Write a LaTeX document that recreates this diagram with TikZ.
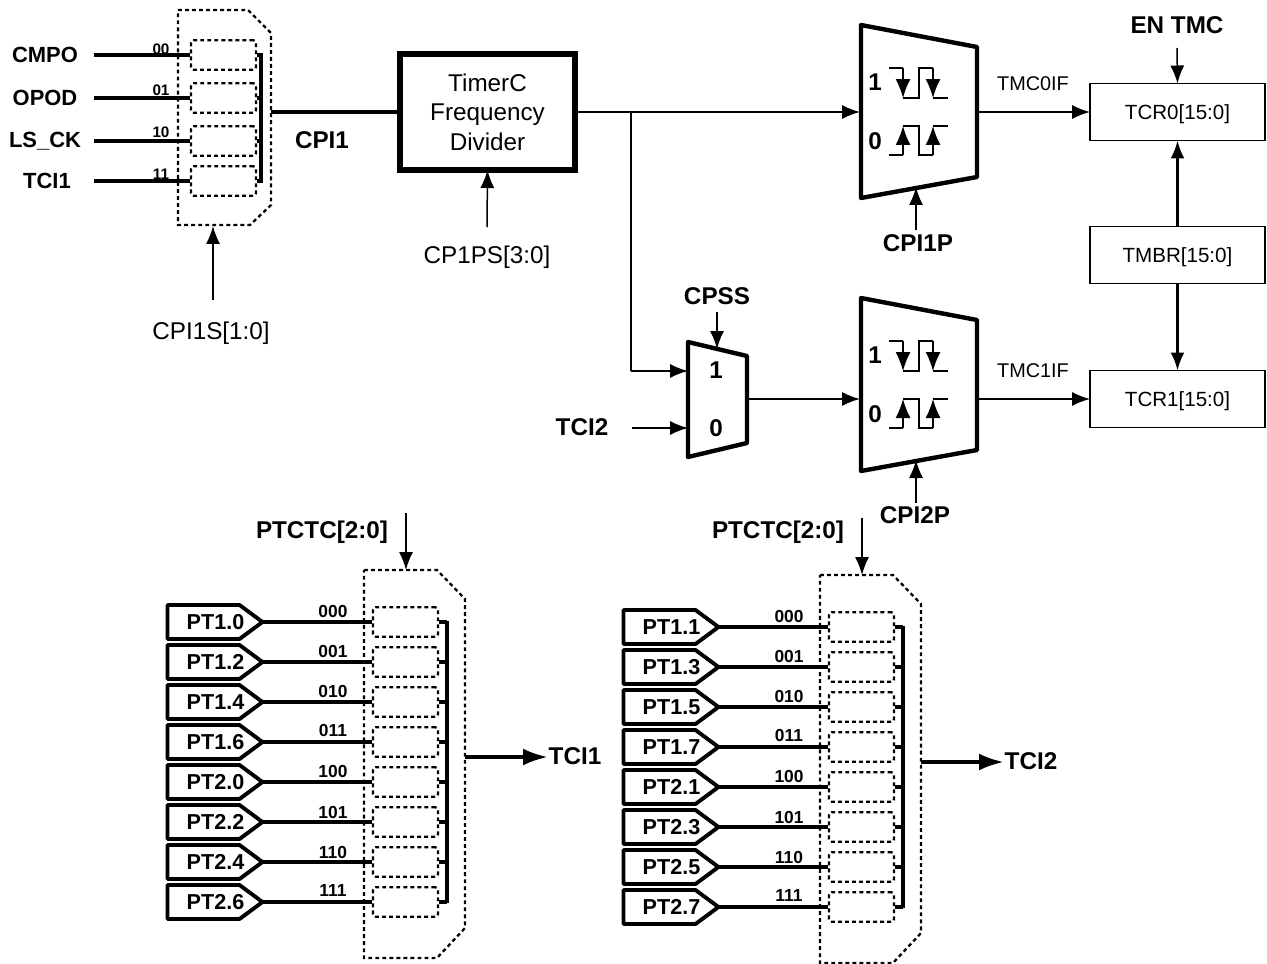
\documentclass[tikz,border=0pt]{standalone}
\usepackage{fontspec}
\setmainfont{Liberation Sans}
\usetikzlibrary{arrows.meta, shapes.symbols}

\tikzset{
  sig/.style={line width=0.85pt, -{Latex[length=0.36cm, width=0.28cm]}},
  sigbold/.style={line width=1.5pt, -{Latex[length=0.36cm, width=0.28cm]}},
  busout/.style={line width=2.2pt, -{Latex[length=0.5cm, width=0.34cm]}},
  wire/.style={line width=1.9pt},
  edgeline/.style={line width=0.85pt},
  edgetip/.style={line width=0.85pt, -{Latex[length=0.38cm, width=0.3cm]}},
  dashbox/.style={line width=1.3pt, dash pattern=on 2.2pt off 1.8pt},
  slot/.style={draw, dashbox, rounded corners=1.5pt, minimum width=1.3cm, minimum height=0.59cm, inner sep=0pt},
  muxline/.style={line width=2.5pt, line join=round},
  regbox/.style={draw, line width=1.1pt, minimum width=3.5cm, minimum height=1.14cm, inner sep=0pt, outer sep=0pt,
    text depth=0pt, font=\fontsize{11.7}{14}\selectfont},
  pintag/.style={draw, line width=2.2pt, line join=round, signal, signal to=east, signal pointer angle=73,
    minimum width=1.9cm, minimum height=0.68cm, inner sep=0pt, outer sep=0pt, font=\fontsize{12.3}{14}\selectfont\bfseries},
  pinlab/.style={font=\fontsize{12.5}{15}\selectfont\bfseries},
  lab/.style={font=\fontsize{13.8}{16}\selectfont\bfseries},
  plain/.style={font=\fontsize{13.8}{16.7}\selectfont, align=center},
  tiny/.style={font=\fontsize{8.7}{10}\selectfont\bfseries},
  small/.style={font=\fontsize{9.9}{12}\selectfont\bfseries},
  flag/.style={font=\fontsize{11.3}{14}\selectfont},
}

\begin{document}
\begin{tikzpicture}[x=0.02cm, y=-0.02cm]
  \useasboundingbox (0,0) rectangle (1267,963);

  % input selector
  \draw[dashbox] (178,10) -- (248,10) -- (271,33) -- (271,205) -- (250,225) -- (178,225) -- cycle;
  \foreach \r/\y/\ly/\px/\pin/\code in {a/55/49/45/CMPO/00, b/98/90/45/OPOD/01, c/141/132/45/LS\_CK/10, d/181/174/47/TCI1/11} {
    \node[slot] (sel\r) at (223.5,\y) {};
    \node[pinlab] (pin\r) at (\px,\y) {\pin};
    \coordinate (in\r) at (94,\y);
    \coordinate (bus\r) at (261,\y);
    \draw[wire] (in\r) -- (sel\r.west);
    \draw[wire] (sel\r.east) -- (bus\r);
    \node[tiny] (code\r) at (161,\ly) {\code};
  }
  \draw[line width=2.4pt] (261,53) -- (261,183);

  % divider
  \node[draw, line width=3pt, minimum width=3.5cm, minimum height=2.32cm, inner sep=0pt, outer sep=0pt, plain] (div) at (487.5,112)
    {TimerC\\Frequency\\Divider};
  \coordinate (selout) at (271,112);
  \draw[wire] (selout) -- (div.west);
  \node[lab] (cpione) at (322,140) {CPI1};
  \node[plain] (cpis) at (211,333) {CPI1S[1:0]};
  \coordinate (cpisin) at (213,300);
  \coordinate (selbot) at (213,226);
  \draw[sig] (cpisin) -- (selbot);
  \node[plain] (cpps) at (487,257) {CP1PS[3:0]};
  \coordinate (cppsin) at (487,227);
  \draw[sig] (cppsin) -- (div.south);

  % edge select blocks
  \foreach \m/\dy/\sel/\sx/\sy in {0/0/CPI1P/918/243, 1/273/CPI2P/915/242} {
    \begin{scope}[shift={(0,\dy)}]
      \draw[muxline] (861,25) -- (977,47) -- (977,177) -- (861,198) -- cycle;
      \node[lab] (one\m) at (875,82) {1};
      \node[lab] (zero\m) at (875,141) {0};
      \draw[edgeline] (889,68) -- (903,68) (903,98) -- (919,98) -- (919,68) -- (933,68) (933,98) -- (948,98);
      \draw[edgetip] (903,68) -- (903,98);
      \draw[edgetip] (933,68) -- (933,98);
      \draw[edgeline] (889,155) -- (903,155) (903,126) -- (919,126) -- (919,155) -- (933,155) (933,126) -- (948,126);
      \draw[edgetip] (903,155) -- (903,126);
      \draw[edgetip] (933,155) -- (933,126);
      \coordinate (edgein\m) at (916,230);
      \coordinate (edgebot\m) at (916,187);
      \draw[sig] (edgein\m) -- (edgebot\m);
      \node[lab] (cpip\m) at (\sx,\sy) {\sel};
    \end{scope}
  }

  % registers
  \node[regbox] (tcrz) at (1177.5,112) {TCR0[15:0]};
  \node[regbox] (tmbr) at (1177.5,255) {TMBR[15:0]};
  \node[regbox] (tcro) at (1177.5,399) {TCR1[15:0]};
  \draw[sigbold] (tmbr) -- (tcrz);
  \draw[sigbold] (tmbr) -- (tcro);
  \node[lab] (en) at (1177,25) {EN TMC};
  \coordinate (enin) at (1177,48);
  \draw[sig] (enin) -- (tcrz.north);

  % second clock path
  \coordinate (divout) at (div.east);
  \coordinate (muxa) at (860,112);
  \coordinate (muxaout) at (977,112);
  \coordinate (tap) at (631,112);
  \coordinate (tapb) at (631,371);
  \coordinate (smalla) at (688,371);
  \draw[sig] (divout) -- (muxa);
  \draw[line width=0.85pt] (tap) -- (tapb);
  \draw[sig] (tapb) -- (smalla);
  \draw[sig] (muxaout) -- (tcrz.west);
  \node[flag] (flagz) at (1033,84) {TMC0IF};

  \draw[muxline] (688,342) -- (747,356) -- (747,443) -- (688,457) -- cycle;
  \node[lab] (sone) at (716,370) {1};
  \node[lab] (szero) at (716,428) {0};
  \node[lab] (cpss) at (717,296) {CPSS};
  \coordinate (cpssin) at (717,312);
  \coordinate (smalltop) at (717,349);
  \draw[sig] (cpssin) -- (smalltop);
  \node[lab] (tcitwo) at (582,427) {TCI2};
  \coordinate (tcia) at (632,428);
  \coordinate (smallb) at (688,428);
  \draw[sig] (tcia) -- (smallb);
  \coordinate (smallout) at (747,399);
  \coordinate (muxb) at (860,399);
  \coordinate (muxbout) at (977,399);
  \draw[sig] (smallout) -- (muxb);
  \draw[sig] (muxbout) -- (tcro.west);
  \node[flag] (flago) at (1033,371) {TMC1IF};

  % port selectors
  \foreach \s/\dx/\dy/\res/\py in {0/0/0/TCI1/532, 1/456/5/TCI2/527} {
    \begin{scope}[shift={(\dx,\dy)}]
      \draw[dashbox] (364,570) -- (437,570) -- (465,599) -- (465,928) -- (437,958) -- (364,958) -- cycle;
      \foreach \i/\port/\bit/\code/\ly/\y in {0/1/0/000/612/622, 1/1/2/001/652/662, 2/1/4/010/692/702, 3/1/6/011/731/742,
          4/2/0/100/772/782, 5/2/2/101/813/822, 6/2/4/110/853/862, 7/2/6/111/891/902} {
        \pgfmathtruncatemacro{\pbit}{\bit+\s}
        \node[pintag] (pt\s\i) at (203.5,\y) {\makebox[0pt]{\hspace{0.48cm}PT\port.\pbit}};
        \node[slot] (slot\s\i) at (405.5,\y) {};
        \coordinate (bus\s\i) at (447,\y);
        \draw[wire] (pt\s\i.east) -- (slot\s\i.west);
        \draw[wire] (slot\s\i.east) -- (bus\s\i);
        \node[small] (bits\s\i) at (333,\ly) {\code};
      }
      \draw[line width=2.4pt] (447,621) -- (447,903);
      \node[lab] (ctc\s) at (322,\py) {PTCTC[2:0]};
      \coordinate (ctcin\s) at (406,513);
      \coordinate (ctctop\s) at (406,570);
      \draw[sig] (ctcin\s) -- (ctctop\s);
      \coordinate (outa\s) at (465,757);
      \coordinate (outb\s) at (548,757);
      \draw[busout] (outa\s) -- (outb\s);
      \node[lab] (res\s) at (575,756) {\res};
    \end{scope}
  }
\end{tikzpicture}
\end{document}
